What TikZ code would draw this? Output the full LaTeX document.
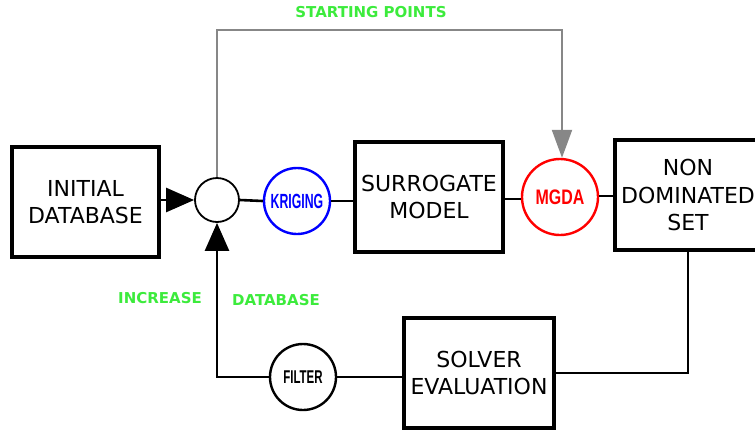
\documentclass[tikz,border=0pt]{standalone}
\usepackage{fontspec}
\usepackage{graphicx}
\setmainfont{DejaVu Sans}
\newfontfamily\narrowb{Liberation Sans Bold}
\usetikzlibrary{arrows.meta}
\definecolor{lblgreen}{RGB}{60,235,60}
\definecolor{pathgray}{RGB}{135,135,135}
\tikzset{
  blockbox/.style={draw=black, line width=3.2pt, align=center, inner sep=0pt,
    font=\fontsize{22}{27.5}\selectfont},
  ring/.style={circle, draw=black, line width=1.8pt, inner sep=0pt},
  conn/.style={line width=2.6pt, draw=black},
  lbl/.style={text=lblgreen, font=\fontsize{15}{18}\selectfont\bfseries, inner sep=0pt},
  bigtip/.style={-{Triangle[length=28pt,width=24pt]}},
}
\begin{document}
\begin{tikzpicture}[x=1pt,y=-1pt]
\useasboundingbox (0,0) rectangle (755,432);
\begin{scope}
\clip (0,0) rectangle (755,432);
\node[blockbox, minimum width=147pt, minimum height=110pt] (init) at (85.5,202) {INITIAL\\DATABASE};
\node[ring, minimum size=44pt] (junc) at (217,200) {};
\node[ring, draw=blue, line width=2.4pt, minimum size=66pt] (krig) at (297,201)
  {\textcolor{blue}{\scalebox{0.6}[1]{\narrowb\fontsize{20.5}{20.5}\selectfont KRIGING}}};
\node[blockbox, minimum width=148pt, minimum height=110pt] (surr) at (429,197) {SURROGATE\\MODEL};
\node[ring, draw=red, line width=2.4pt, minimum size=76pt] (mgda) at (560,197)
  {\textcolor{red}{\scalebox{0.76}[1]{\narrowb\fontsize{21}{21}\selectfont MGDA}}};
\node[blockbox, minimum width=146pt, minimum height=110pt] (nds) at (688,195) {NON\\DOMINATED\\SET};
\node[blockbox, minimum width=150pt, minimum height=110pt] (solver) at (479,373) {SOLVER\\EVALUATION};
\node[ring, line width=2.4pt, minimum size=66pt] (filter) at (303,377)
  {\scalebox{0.62}[1]{\narrowb\fontsize{18.5}{18.5}\selectfont FILTER}};

\node[lbl] (sp) at (371,12) {STARTING POINTS};
\node[lbl] (inc) at (160,298) {INCREASE};
\node[lbl] (db) at (276,300) {DATABASE};

\draw[conn] (junc.east) -- (krig.west);
\draw[conn] (krig.east) -- (krig.east -| surr.west);
\draw[conn] (surr.east |- 0,199) -- (mgda.west |- 0,199);
\draw[conn] (mgda.east |- 0,196) -- (nds.west |- 0,196);
\draw[conn] (filter.east) -- (filter.east -| solver.west);
\draw[conn] (nds.south) |- (solver.east);
\draw[conn, bigtip] (filter.west) -| (junc.south);
\draw[conn, bigtip] (init.east |- junc.west) -- (junc.west);
\coordinate (gl) at (217,30);
\coordinate (gr) at (562,30);
\draw[line width=2.2pt, draw=pathgray, -{Triangle[length=28pt,width=20pt]}]
  (junc.north) -- (gl) -- (gr) -- (mgda.north -| gr);
\end{scope}
\end{tikzpicture}
\end{document}
